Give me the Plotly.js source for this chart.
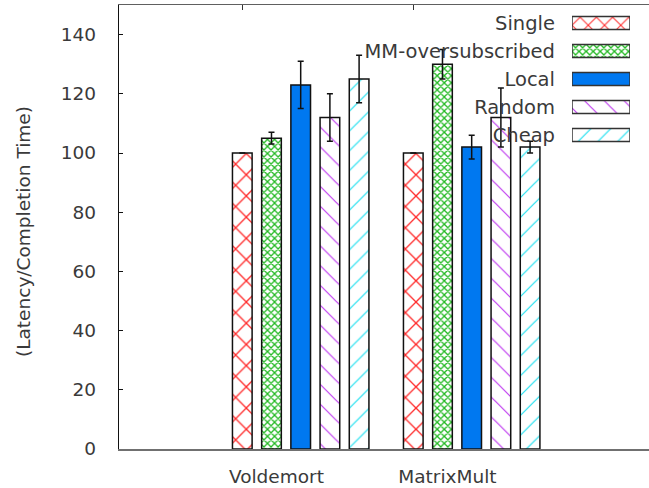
<!DOCTYPE html>
<html>
<head>
<meta charset="utf-8">
<script src="https://cdn.plot.ly/plotly-3.0.1.min.js"></script>
<style>
html,body{margin:0;padding:0;background:#fff;}
#chart{width:649px;height:488px;}
</style>
</head>
<body>
<div id="chart"></div>
<script>
// ---- data ----
const categories = ['Voldemort', 'MatrixMult'];
const seriesNames = ['Single', 'MM-oversubscribed', 'Local', 'Random', 'Cheap'];
const singleVals = [100, 100];
const singleErr = [0, 0];
const mmVals = [105, 130];
const mmErr = [2, 5];
const localVals = [123, 102];
const localErr = [8, 4];
const randomVals = [112, 112];
const randomErr = [8, 10];
const cheapVals = [125, 102];
const cheapErr = [8, 2];
const yTicks = [0, 20, 40, 60, 80, 100, 120, 140];
const yTitle = '(Latency/Completion Time)';

// ---- styles ----
const FONT = 'DejaVu Sans, Liberation Sans, sans-serif';
const TXT = '#3a3a3a';
const styles = [
  {shape: 'x', fg: '#ff2a2a', size: 15, lsize: 11.5, sol: 0.17, color: 'white'},
  {shape: 'x', fg: '#1fb81f', size: 5, lsize: 5, sol: 0.45, color: 'white'},
  {shape: '', fg: '#0078f0', size: 8, lsize: 8, sol: 0.3, color: '#0078f0'},
  {shape: '\\', fg: '#c03cf0', size: 14, lsize: 14, sol: 0.085, color: 'white'},
  {shape: '/', fg: '#1ee0f0', size: 14, lsize: 14, sol: 0.085, color: 'white'}
];
const values = [singleVals, mmVals, localVals, randomVals, cheapVals];
const errs = [singleErr, mmErr, localErr, randomErr, cheapErr];
const idx = categories.map((c, i) => i);

const traces = [];
seriesNames.forEach((name, j) => {
  const s = styles[j];
  const marker = {color: s.color, line: {color: '#111', width: 1.5}};
  if (s.shape) marker.pattern = {shape: s.shape, fgcolor: s.fg, bgcolor: 'white', size: s.size, solidity: s.sol, fillmode: 'replace'};
  traces.push({
    type: 'bar', name: name, x: idx, y: values[j],
    marker: marker,
    error_y: {type: 'data', array: errs[j], visible: true, color: '#111', thickness: 1.5, width: 3},
    xaxis: 'x', yaxis: 'y', showlegend: false, hoverinfo: 'none'
  });
});
// legend keys drawn as bars on their own axes
seriesNames.forEach((name, j) => {
  const s = styles[j];
  const marker = {color: s.color, line: {color: '#333', width: 1.5}};
  if (s.shape) marker.pattern = {shape: s.shape, fgcolor: s.fg, bgcolor: 'white', size: s.lsize, solidity: s.sol, fillmode: 'replace'};
  traces.push({
    type: 'bar', orientation: 'h', x: [1], y: [name], width: 0.46, offset: -0.23,
    marker: marker, xaxis: 'x2', yaxis: 'y2', showlegend: false, hoverinfo: 'none'
  });
});
// empty trace so the top tick axis exists
traces.push({type: 'scatter', x: [], y: [], xaxis: 'x3', yaxis: 'y', showlegend: false});

const xr = [-1.0626, 2.037];
const layout = {
  width: 649, height: 488,
  margin: {l: 119, r: 0, t: 5, b: 39},
  paper_bgcolor: 'white', plot_bgcolor: 'white',
  font: {family: FONT, size: 18, color: TXT},
  barmode: 'group', bargap: 0.146, bargroupgap: 0.327,
  showlegend: false,
  xaxis: {
    range: xr, tickvals: idx.map(i => i - 0.142), ticktext: categories,
    ticks: '', showline: true, linecolor: '#707070', linewidth: 1.5,
    zeroline: false, showgrid: false, tickfont: {size: 18.5, color: TXT}, ticklabelstandoff: 10
  },
  xaxis3: {
    overlaying: 'x', side: 'top', anchor: 'y', range: xr,
    tickvals: idx.map(i => i - 0.342), ticks: 'inside', ticklen: 5, tickcolor: '#333', tickwidth: 1,
    showticklabels: false, showline: true, linecolor: '#606060', linewidth: 1.5,
    zeroline: false, showgrid: false
  },
  yaxis: {
    range: [0, 150], tickvals: yTicks, ticks: 'inside', ticklen: 4, tickcolor: '#111', tickwidth: 1,
    showline: true, linecolor: '#111', linewidth: 1.2, zeroline: false, showgrid: false,
    tickfont: {size: 18.5, color: TXT}, ticklabelstandoff: 18
  },
  xaxis2: {
    domain: [0.8547, 0.9642], anchor: 'y2', range: [0, 1],
    visible: false, fixedrange: true
  },
  yaxis2: {
    domain: [0.6757, 0.991], anchor: 'x2', type: 'category',
    categoryorder: 'array', categoryarray: seriesNames,
    range: [4.5, -0.5], ticks: '', showline: false, showgrid: false, zeroline: false,
    tickfont: {size: 19.5, color: TXT}, ticklabelstandoff: 16
  },
  annotations: [{
    text: yTitle, textangle: -90, xref: 'paper', yref: 'paper',
    x: (23 - 119) / 530, y: (449 - 232) / 444, xanchor: 'center', yanchor: 'middle',
    showarrow: false, font: {size: 18.5, color: TXT, family: FONT}
  }]
};
Plotly.newPlot('chart', traces, layout, {staticPlot: true, displayModeBar: false});
</script>
</body>
</html>
